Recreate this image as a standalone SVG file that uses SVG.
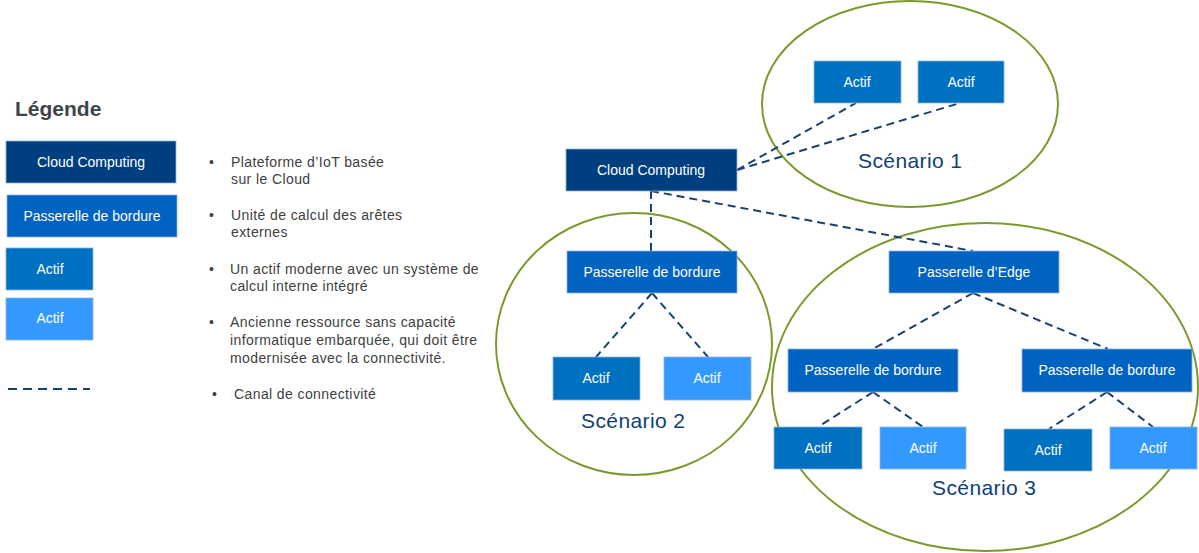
<svg xmlns="http://www.w3.org/2000/svg" width="1199" height="553" viewBox="0 0 1199 553">
<style>
.n{stroke:#8db3e2;stroke-width:0.8}
.cc{fill:#003f7f}
.pb{fill:#0062c1}
.ad{fill:#0070c0}
.al{fill:#3399ff}
.nt{font-family:"Liberation Sans",Arial,sans-serif;font-size:14px;fill:#ffffff;text-anchor:middle}
.lt{font-family:"Liberation Sans",Arial,sans-serif;font-size:14px;fill:#404040;letter-spacing:0.4px}
.sc{font-family:"Liberation Sans",Arial,sans-serif;font-size:21px;fill:#0f3f78;letter-spacing:0.4px}
.el{fill:none;stroke:#7a9a2f;stroke-width:2}
.dl{fill:none;stroke:#1a406e;stroke-width:2;stroke-dasharray:8 5}
</style>
<rect width="1199" height="553" fill="#ffffff"/>

<g id="scenarios">
<ellipse class="el" cx="910" cy="104" rx="148" ry="103"/>
<ellipse class="el" cx="634" cy="344" rx="138" ry="131"/>
<ellipse class="el" cx="985" cy="387" rx="213" ry="164"/>
<text class="sc" x="858" y="168">Scénario 1</text>
<text class="sc" x="581" y="428">Scénario 2</text>
<text class="sc" x="932" y="495">Scénario 3</text>
</g>

<g id="legend">
<text x="15" y="116" font-family="Liberation Sans,Arial,sans-serif" font-size="21" font-weight="bold" fill="#3f444d">Légende</text>
<g id="leg-cloud"><rect class="n cc" x="6" y="141" width="170" height="42"/><text class="nt" x="91" y="167">Cloud Computing</text></g>
<g id="leg-pb"><rect class="n pb" x="7" y="195" width="170" height="42"/><text class="nt" x="92" y="221">Passerelle de bordure</text></g>
<g id="leg-ad"><rect class="n ad" x="6" y="248" width="87" height="42"/><text class="nt" x="50" y="274">Actif</text></g>
<g id="leg-al"><rect class="n al" x="6" y="298" width="87" height="42"/><text class="nt" x="50" y="323">Actif</text></g>
<line x1="8" y1="389" x2="90" y2="389" stroke="#1a406e" stroke-width="2" stroke-dasharray="9 6"/>
<g class="lt">
<text x="209" y="167">•</text>
<text x="231" y="167">Plateforme d’IoT basée</text>
<text x="231" y="184">sur le Cloud</text>
<text x="209" y="220">•</text>
<text x="231" y="220">Unité de calcul des arêtes</text>
<text x="231" y="237">externes</text>
<text x="209" y="274">•</text>
<text x="230" y="274">Un actif moderne avec un système de</text>
<text x="230" y="291">calcul interne intégré</text>
<text x="209" y="327">•</text>
<text x="230" y="327">Ancienne ressource sans capacité</text>
<text x="230" y="345">informatique embarquée, qui doit être</text>
<text x="230" y="363">modernisée avec la connectivité.</text>
<text x="212" y="399">•</text>
<text x="234" y="399">Canal de connectivité</text>
</g>
</g>

<g id="connectors">
<path class="dl" d="M737 170 L856 103"/>
<path class="dl" d="M737 170 L960 103"/>
<path class="dl" d="M651 191 L651 251"/>
<path class="dl" d="M651 191 L973 251"/>
<path class="dl" d="M652 293 L596 357"/>
<path class="dl" d="M652 293 L708 357"/>
<path class="dl" d="M973 293 L873 349"/>
<path class="dl" d="M973 293 L1108 349"/>
<path class="dl" d="M873 392 L818 427"/>
<path class="dl" d="M873 392 L923 427"/>
<path class="dl" d="M1107 392 L1049 429"/>
<path class="dl" d="M1107 392 L1153 427"/>
</g>

<g id="cloud"><rect class="n cc" x="566" y="149" width="171" height="42"/><text class="nt" x="651" y="175">Cloud Computing</text></g>
<g id="s1-a1"><rect class="n ad" x="814" y="61" width="87" height="42"/><text class="nt" x="857" y="87">Actif</text></g>
<g id="s1-a2"><rect class="n ad" x="918" y="61" width="86" height="42"/><text class="nt" x="961" y="87">Actif</text></g>
<g id="s2-pb"><rect class="n pb" x="567" y="251" width="170" height="42"/><text class="nt" x="652" y="277">Passerelle de bordure</text></g>
<g id="s2-a1"><rect class="n ad" x="553" y="357" width="87" height="43"/><text class="nt" x="596" y="383">Actif</text></g>
<g id="s2-a2"><rect class="n al" x="664" y="357" width="87" height="43"/><text class="nt" x="707" y="383">Actif</text></g>
<g id="s3-edge"><rect class="n pb" x="889" y="251" width="170" height="42"/><text class="nt" x="974" y="277">Passerelle d’Edge</text></g>
<g id="s3-pb1"><rect class="n pb" x="788" y="349" width="170" height="43"/><text class="nt" x="873" y="375">Passerelle de bordure</text></g>
<g id="s3-pb2"><rect class="n pb" x="1022" y="349" width="170" height="43"/><text class="nt" x="1107" y="375">Passerelle de bordure</text></g>
<g id="s3-a1"><rect class="n ad" x="774" y="427" width="88" height="42"/><text class="nt" x="818" y="453">Actif</text></g>
<g id="s3-a2"><rect class="n al" x="880" y="427" width="86" height="42"/><text class="nt" x="923" y="453">Actif</text></g>
<g id="s3-a3"><rect class="n ad" x="1004" y="429" width="88" height="42"/><text class="nt" x="1048" y="455">Actif</text></g>
<g id="s3-a4"><rect class="n al" x="1110" y="427" width="87" height="42"/><text class="nt" x="1153" y="453">Actif</text></g>
</svg>
